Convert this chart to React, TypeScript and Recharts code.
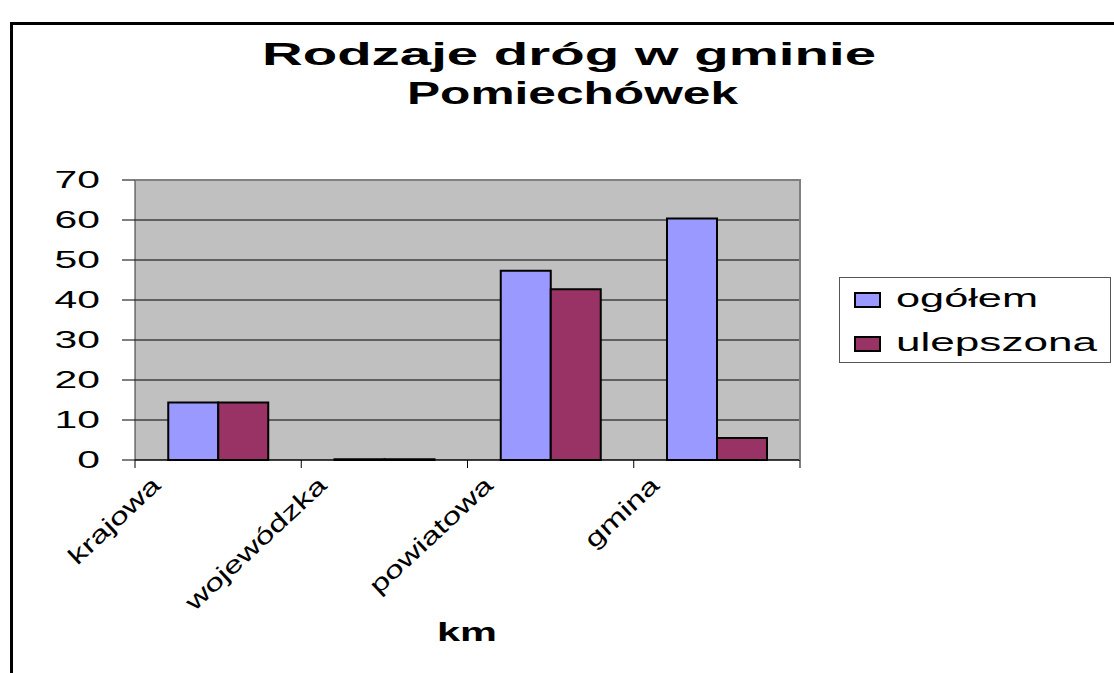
import { Bar, BarChart, CartesianGrid, XAxis, YAxis } from "recharts";

const categories = ["krajowa", "wojewódzka", "powiatowa", "gmina"];
const ogolem = [14.4, 0.2, 47.3, 60.4];
const ulepszona = [14.4, 0.2, 42.7, 5.5];
const seriesNames = ["ogółem", "ulepszona"];
const yTicks = [0, 10, 20, 30, 40, 50, 60, 70];
const titleLines = ["Rodzaje dróg w gminie", "Pomiechówek"];
const axisTitle = "km";

const data = categories.map((name, i) => ({
	name,
	ogolem: ogolem[i],
	ulepszona: ulepszona[i],
}));

const W = 1114;
const H = 673;
const PLOT = { left: 135, right: 800, top: 180, bottom: 460 };
const BAND = (PLOT.right - PLOT.left) / categories.length;
const FONT = "'Liberation Sans', Arial, sans-serif";
const COLORS = ["#9999FF", "#993366"];

// category ticks sit on the band edges, labels slanted like the old Excel chart
function XTick(props: any) {
	const { x, payload, index } = props;
	const left = x - BAND / 2;
	const y = PLOT.bottom;
	return (
		<g>
			<line x1={left} y1={y} x2={left} y2={y + 8} stroke="#000" />
			{index === categories.length - 1 && (
				<line x1={x + BAND / 2} y1={y} x2={x + BAND / 2} y2={y + 8} stroke="#000" />
			)}
			<text
				transform={`translate(${left + 27},${y + 27}) rotate(-43) scale(1.4,1)`}
				textAnchor="end"
				fontSize={24}
				fontFamily={FONT}
				fill="#000"
			>
				{payload.value}
			</text>
		</g>
	);
}

function YTick(props: any) {
	const { x, y, payload } = props;
	return (
		<text
			transform={`translate(${x},${y}) scale(1.7,1)`}
			dy={7.5}
			textAnchor="end"
			fontSize={24}
			fontFamily={FONT}
			fill="#000"
		>
			{payload.value}
		</text>
	);
}

export default function App() {
	return (
		<div style={{ position: "absolute", left: 0, top: 0, width: W, height: H, background: "#fff" }}>
			<BarChart
				width={W}
				height={H}
				data={data}
				margin={{ top: PLOT.top, right: W - PLOT.right, bottom: H - PLOT.bottom - 30, left: PLOT.left - 60 }}
				barCategoryGap="20%"
				barGap={0}
			>
				<CartesianGrid vertical={false} stroke="#000" fill="#C0C0C0" fillOpacity={1} />
				<XAxis
					dataKey="name"
					height={30}
					interval={0}
					tickLine={false}
					axisLine={{ stroke: "#000" }}
					tick={<XTick />}
				/>
				<YAxis
					width={60}
					domain={[0, 70]}
					ticks={yTicks}
					interval={0}
					tickSize={13}
					tickMargin={22}
					tickLine={{ stroke: "#000" }}
					axisLine={{ stroke: "#333" }}
					tick={<YTick />}
				/>
				<Bar dataKey="ogolem" name={seriesNames[0]} fill={COLORS[0]} stroke="#000" strokeWidth={2} isAnimationActive={false} />
				<Bar dataKey="ulepszona" name={seriesNames[1]} fill={COLORS[1]} stroke="#000" strokeWidth={2} isAnimationActive={false} />
			</BarChart>
			<svg
				width={W}
				height={H}
				style={{ position: "absolute", left: 0, top: 0, pointerEvents: "none" }}
			>
				<path d={`M11.5 ${H} V23.5 H${W}`} fill="none" stroke="#000" strokeWidth={3} />
				<path
					d={`M${PLOT.left} ${PLOT.top} H${PLOT.right} V${PLOT.bottom}`}
					fill="none"
					stroke="#808080"
					strokeWidth={2}
				/>
				<g fontFamily={FONT} fontWeight="bold" fontSize={32} fill="#000">
					<text x={262} y={65} textLength={614} lengthAdjust="spacingAndGlyphs">
						{titleLines[0]}
					</text>
					<text x={407} y={104} textLength={331} lengthAdjust="spacingAndGlyphs">
						{titleLines[1]}
					</text>
				</g>
				<rect x={839.5} y={277.5} width={271} height={85} fill="#fff" stroke="#555" />
				{seriesNames.map((s, i) => (
					<g key={s}>
						<rect x={855} y={293 + i * 44} width={25} height={14} fill={COLORS[i]} stroke="#000" strokeWidth={2} />
						<text
							x={896}
							y={307 + i * 44}
							fontFamily={FONT}
							fontSize={25}
							fill="#000"
							textLength={i === 0 ? 142 : 201}
							lengthAdjust="spacingAndGlyphs"
						>
							{s}
						</text>
					</g>
				))}
				<text
					x={437}
					y={641}
					fontFamily={FONT}
					fontWeight="bold"
					fontSize={26}
					fill="#000"
					textLength={60}
					lengthAdjust="spacingAndGlyphs"
				>
					{axisTitle}
				</text>
			</svg>
		</div>
	);
}
